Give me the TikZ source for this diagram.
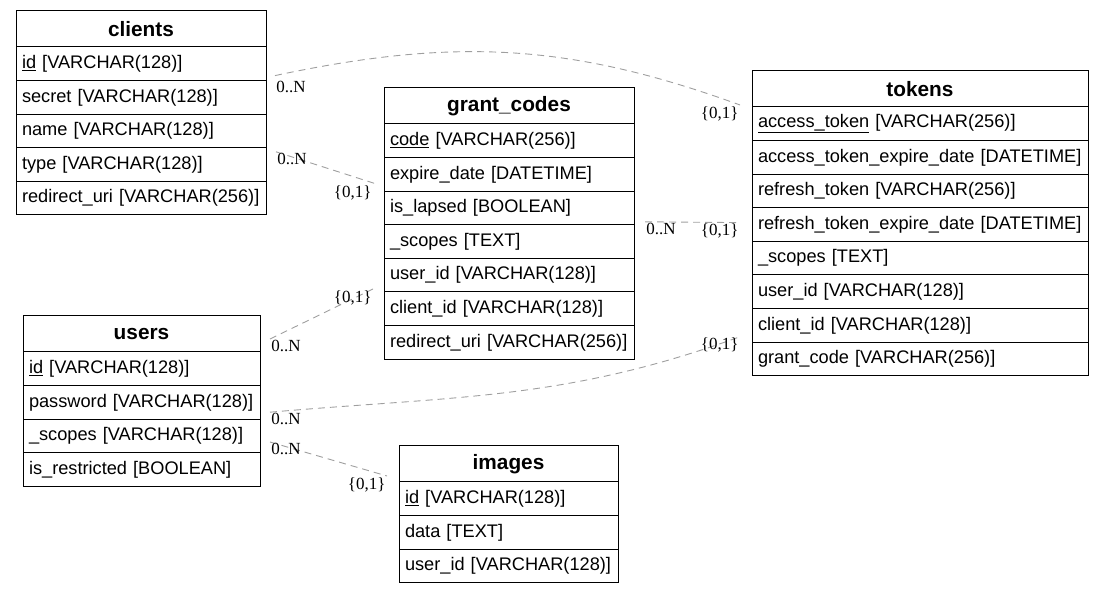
\documentclass[tikz,border=0pt]{standalone}
\usepackage{fontspec}
\setmainfont{Liberation Sans}
\newfontfamily\cardfont{Liberation Serif}
\usetikzlibrary{positioning}

\begin{document}
\begin{tikzpicture}[
      x=1pt, y=-1pt,
      field/.style={
        draw,
        line width=1pt,
        outer sep=0pt,
        inner xsep=6pt,
        inner ysep=0pt,
        text width=#1,
        align=left,
        minimum height=33.6pt,
        font=\fontsize{18.2}{21}\selectfont
      },
      entity/.style={
        field=#1,
        align=center,
        anchor=north west,
        minimum height=36pt,
        font=\bfseries\fontsize{20.8}{24}\selectfont
      },
      rel/.style={
        gray!75,
        line width=0.9pt,
        dash pattern=on 7pt off 5pt
      },
      card/.style={
        text=black,
        inner sep=1pt,
        font=\cardfont\fontsize{17}{19}\selectfont
      }
    ]
      \useasboundingbox (0,0) rectangle (1104,593);

      \node (c0) at (16,11) [entity=238pt] {clients};
      \node (c1) [field=238pt, below=0pt of c0] {\underline{id} [VARCHAR(128)]};
      \node (c2) [field=238pt, below=0pt of c1] {secret [VARCHAR(128)]};
      \node (c3) [field=238pt, below=0pt of c2] {name [VARCHAR(128)]};
      \node (c4) [field=238pt, below=0pt of c3] {type [VARCHAR(128)]};
      \node (c5) [field=238pt, below=0pt of c4] {redirect\_uri [VARCHAR(256)]};

      \node (g0) at (384,88) [entity=238pt] {grant\_codes};
      \node (g1) [field=238pt, below=0pt of g0] {\underline{code} [VARCHAR(256)]};
      \node (g2) [field=238pt, below=0pt of g1] {expire\_date [DATETIME]};
      \node (g3) [field=238pt, below=0pt of g2] {is\_lapsed [BOOLEAN]};
      \node (g4) [field=238pt, below=0pt of g3] {\_scopes [TEXT]};
      \node (g5) [field=238pt, below=0pt of g4] {user\_id [VARCHAR(128)]};
      \node (g6) [field=238pt, below=0pt of g5] {client\_id [VARCHAR(128)]};
      \node (g7) [field=238pt, below=0pt of g6] {redirect\_uri [VARCHAR(256)]};

      \node (t0) at (752,71) [entity=324pt] {tokens};
      \node (t1) [field=324pt, below=0pt of t0] {\underline{access\_token} [VARCHAR(256)]};
      \node (t2) [field=324pt, below=0pt of t1] {access\_token\_expire\_date [DATETIME]};
      \node (t3) [field=324pt, below=0pt of t2] {refresh\_token [VARCHAR(256)]};
      \node (t4) [field=324pt, below=0pt of t3] {refresh\_token\_expire\_date [DATETIME]};
      \node (t5) [field=324pt, below=0pt of t4] {\_scopes [TEXT]};
      \node (t6) [field=324pt, below=0pt of t5] {user\_id [VARCHAR(128)]};
      \node (t7) [field=324pt, below=0pt of t6] {client\_id [VARCHAR(128)]};
      \node (t8) [field=324pt, below=0pt of t7] {grant\_code [VARCHAR(256)]};

      \node (u0) at (23,316) [entity=225pt] {users};
      \node (u1) [field=225pt, below=0pt of u0] {\underline{id} [VARCHAR(128)]};
      \node (u2) [field=225pt, below=0pt of u1] {password [VARCHAR(128)]};
      \node (u3) [field=225pt, below=0pt of u2] {\_scopes [VARCHAR(128)]};
      \node (u4) [field=225pt, below=0pt of u3] {is\_restricted [BOOLEAN]};

      \node (i0) at (399,446) [entity=207pt] {images};
      \node (i1) [field=207pt, below=0pt of i0] {\underline{id} [VARCHAR(128)]};
      \node (i2) [field=207pt, below=0pt of i1] {data [TEXT]};
      \node (i3) [field=207pt, below=0pt of i2] {user\_id [VARCHAR(128)]};

      \draw[rel] ([shift={(9pt,5pt)}]c1.south east) to[out=12, in=160]
        node[card, at start, anchor=north west, yshift=-4pt] {0..N}
        node[card, at end, anchor=north east] {\{0,1\}}
        ([shift={(-12pt,2pt)}]t0.south west);
      \draw[rel] ([shift={(10pt,-4pt)}]c4.north east) --
        node[card, at start, anchor=north west] {0..N}
        node[card, at end, anchor=north east, xshift=-4pt] {\{0,1\}}
        ([shift={(-7pt,7pt)}]g2.south west);
      \draw[rel] ([shift={(10pt,-5pt)}]u0.east) --
        node[card, at start, anchor=north west] {0..N}
        node[card, at end, anchor=north east] {\{0,1\}}
        ([shift={(-11pt,3pt)}]g5.south west);
      \draw[rel] ([shift={(11pt,3pt)}]g3.south east) --
        node[card, at start, anchor=north west] {0..N}
        node[card, at end, anchor=north east] {\{0,1\}}
        ([shift={(-12pt,2pt)}]t4.west);
      \draw[rel] ([shift={(10pt,7pt)}]u2.south east) to[out=5, in=200]
        node[card, at start, anchor=north west] {0..N}
        node[card, at end, anchor=north east] {\{0,1\}}
        ([shift={(-12pt,5.5pt)}]t7.south west);
      \draw[rel] ([shift={(10pt,-6pt)}]u3.east) --
        node[card, at start, anchor=north west] {0..N}
        node[card, at end, anchor=north east] {\{0,1\}}
        ([shift={(-12pt,6pt)}]i0.south west);

    \end{tikzpicture}
\end{document}
